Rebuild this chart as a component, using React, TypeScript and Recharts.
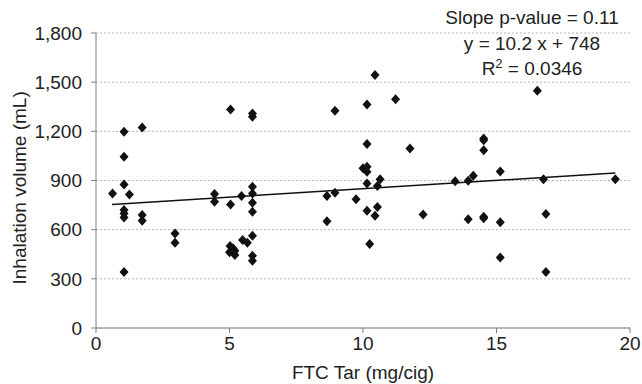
import { ScatterChart, Scatter, XAxis, YAxis, CartesianGrid } from "recharts";

const tar = [
  0.62, 1.05, 1.05, 1.05, 1.25, 1.05, 1.05, 1.05, 1.05, 1.73, 1.73, 1.73, 2.96, 2.96,
  4.44, 4.44, 5.04, 5.04, 5.02, 5.13, 5.2, 5.0, 5.2, 5.45, 5.49, 5.67, 5.86, 5.86,
  5.86, 5.86, 5.86, 5.86, 5.86, 5.86, 5.86, 8.65, 8.65, 8.95, 8.95, 9.74, 10.0, 10.15,
  10.15, 10.15, 10.15, 10.15, 10.15, 10.25, 10.45, 10.45, 10.54, 10.54, 10.64, 11.22,
  11.76, 12.25, 13.45, 13.94, 13.94, 14.13, 14.52, 14.52, 14.52, 14.52, 14.52, 15.14,
  15.14, 15.14, 16.53, 16.76, 16.85, 16.85, 19.45,
];

const volume = [
  821, 1197, 1045, 876, 815, 720, 699, 675, 341, 1224, 689, 654, 577, 520,
  818, 770, 1333, 754, 500, 486, 471, 462, 445, 805, 537, 520, 1309, 1289,
  862, 821, 764, 709, 563, 441, 410, 805, 651, 1325, 825, 785, 974, 984,
  953, 1363, 1122, 882, 715, 512, 1543, 685, 866, 738, 907, 1396,
  1096, 693, 896, 898, 663, 929, 1157, 1146, 1085, 679, 669, 955,
  646, 430, 1447, 907, 695, 341, 907,
];

// fitted line y = 10.2 x + 748, drawn across the data range
const trendX = [0.6, 19.45];
const trendY = [754, 946];

const xTicks = [0, 5, 10, 15, 20];
const yTicks = [0, 300, 600, 900, 1200, 1500, 1800];

const points = tar.map((x, i) => ({ x, y: volume[i] }));
const trend = trendX.map((x, i) => ({ x, y: trendY[i] }));

const FONT = "'Liberation Sans', Arial, sans-serif";
const FS = 19;

function Diamond(props: any) {
  const { cx, cy } = props;
  if (cx == null || cy == null) return null;
  return (
    <polygon
      points={`${cx},${cy - 5} ${cx + 4.5},${cy} ${cx},${cy + 5} ${cx - 4.5},${cy}`}
      fill="#111"
    />
  );
}

export default function App() {
  return (
    <div style={{ position: "absolute", left: 0, top: 0, width: 642, height: 384, background: "#fff", fontFamily: FONT }}>
      <ScatterChart width={642} height={384} margin={{ top: 33, right: 12, bottom: 0, left: 0 }}>
        <CartesianGrid vertical={false} stroke="#b5b5b5" strokeDasharray="2 2" />
        <XAxis
          type="number"
          dataKey="x"
          domain={[0, 20]}
          ticks={xTicks}
          height={56}
          tickSize={5}
          tickMargin={4}
          stroke="#7f7f7f"
          tick={{ fill: "#222", fontSize: FS, fontFamily: FONT }}
          label={{ value: "FTC Tar (mg/cig)", position: "insideBottom", offset: 5, fill: "#222", fontSize: FS, fontFamily: FONT }}
        />
        <YAxis
          type="number"
          dataKey="y"
          domain={[0, 1800]}
          ticks={yTicks}
          width={96}
          tickSize={5}
          tickMargin={9}
          stroke="#7f7f7f"
          tickFormatter={(v: number) => v.toLocaleString("en-US")}
          tick={{ fill: "#222", fontSize: FS, fontFamily: FONT }}
          label={{ value: "Inhalation volume (mL)", angle: -90, position: "insideLeft", offset: 19, dy: 104, fill: "#222", fontSize: FS, fontFamily: FONT }}
        />
        <Scatter data={points} shape={<Diamond />} isAnimationActive={false} />
        <Scatter data={trend} line={{ stroke: "#111", strokeWidth: 1.5 }} shape={() => null} isAnimationActive={false} />
      </ScatterChart>
      <div style={{ position: "absolute", left: 412, width: 240, top: 5, textAlign: "center", fontSize: FS, lineHeight: "25.5px", color: "#222" }}>
        <div>Slope p-value = 0.11</div>
        <div>y = 10.2 x + 748</div>
        <div>
          R<sup style={{ fontSize: 13, lineHeight: 0 }}>2</sup> = 0.0346
        </div>
      </div>
    </div>
  );
}
